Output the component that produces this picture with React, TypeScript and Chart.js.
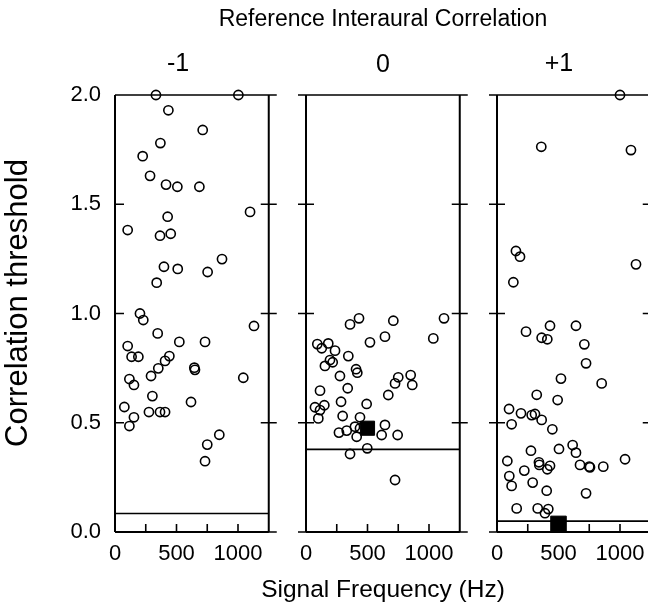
import React, { useEffect, useRef } from 'react';
import { Chart, registerables } from 'chart.js';

Chart.register(...registerables);

const FONT = "'Liberation Sans', Arial, Helvetica, sans-serif";

// ---- text ----
const mainTitle = 'Reference Interaural Correlation';
const panelLabels = ['-1', '0', '+1'];
const xAxisTitle = 'Signal Frequency (Hz)';
const yAxisTitle = 'Correlation threshold';

// ---- axes ----
const xRange = [0, 1250];
const yRange = [0, 2.0];
const xTickValues = [0, 500, 1000];
const xTickLabels = ['0', '500', '1000'];
const xMinorTickValues = [250, 750];
const yTickValues = [0, 0.5, 1.0, 1.5, 2.0];
const yTickLabels = ['0.0', '0.5', '1.0', '1.5', '2.0'];

// ---- panel 1 : reference -1 ----
const p1Freq = [333, 1003, 434, 713, 369, 225, 285, 415, 507, 686, 1098, 428, 103, 366, 453, 870, 398, 510, 753, 339, 203, 230, 1130, 347, 523, 732, 103, 135, 190, 442, 407, 352, 645, 650, 1043, 117, 154, 293, 304, 618, 76, 276, 366, 407, 154, 117, 848, 750, 732];
const p1Thresh = [2.0, 2.0, 1.93, 1.84, 1.78, 1.72, 1.63, 1.59, 1.58, 1.58, 1.465, 1.443, 1.382, 1.356, 1.365, 1.249, 1.214, 1.204, 1.19, 1.141, 1.0, 0.97, 0.943, 0.909, 0.87, 0.87, 0.851, 0.802, 0.802, 0.805, 0.783, 0.749, 0.752, 0.742, 0.706, 0.7, 0.673, 0.714, 0.622, 0.595, 0.572, 0.549, 0.549, 0.549, 0.525, 0.485, 0.445, 0.4, 0.324];
const p1Criterion = 0.085;

// ---- panel 2 : reference 0 ----
const p2Freq = [431, 358, 710, 1122, 1035, 642, 520, 92, 181, 128, 236, 344, 195, 217, 154, 407, 417, 276, 750, 851, 724, 864, 339, 114, 669, 285, 493, 149, 73, 114, 100, 298, 439, 642, 398, 268, 331, 412, 615, 745, 439, 498, 358, 724];
const p2Thresh = [0.978, 0.95, 0.967, 0.978, 0.886, 0.894, 0.868, 0.86, 0.863, 0.841, 0.83, 0.805, 0.787, 0.777, 0.76, 0.745, 0.729, 0.714, 0.708, 0.718, 0.68, 0.673, 0.658, 0.647, 0.627, 0.596, 0.586, 0.58, 0.571, 0.558, 0.52, 0.531, 0.525, 0.49, 0.482, 0.455, 0.464, 0.436, 0.444, 0.444, 0.475, 0.383, 0.357, 0.238];
const p2Criterion = 0.378;
const p2MeanFreq = [500];
const p2MeanThresh = [0.475];

// ---- panel 3 : reference +1 ----
const p3Freq = [1000, 360, 1089, 154, 187, 1130, 133, 431, 642, 236, 363, 409, 710, 724, 520, 851, 323, 493, 98, 195, 282, 309, 363, 119, 450, 504, 615, 642, 276, 84, 341, 344, 431, 675, 750, 756, 864, 1041, 409, 222, 100, 119, 290, 404, 724, 160, 331, 417, 390];
const p3Thresh = [2.0, 1.763, 1.748, 1.286, 1.26, 1.225, 1.143, 0.944, 0.944, 0.917, 0.889, 0.882, 0.859, 0.772, 0.702, 0.68, 0.628, 0.604, 0.563, 0.543, 0.535, 0.54, 0.513, 0.493, 0.47, 0.38, 0.398, 0.363, 0.372, 0.325, 0.319, 0.307, 0.303, 0.307, 0.299, 0.296, 0.299, 0.333, 0.287, 0.281, 0.256, 0.211, 0.226, 0.189, 0.177, 0.108, 0.108, 0.105, 0.086];
const p3Criterion = 0.05;
const p3MeanFreq = [500];
const p3MeanThresh = [0.037];

const framePlugin = {
  id: 'panelFrame',
  beforeDatasetsDraw(chart: any, _args: any, opts: any) {
    const { ctx, chartArea: a, scales } = chart;
    const xs = scales.x;
    const ys = scales.y;
    ctx.save();
    ctx.strokeStyle = '#000';
    ctx.lineWidth = 2;
    ctx.beginPath();
    ctx.moveTo(a.left, a.top);
    ctx.lineTo(a.left, a.bottom);
    ctx.moveTo(a.right, a.top);
    ctx.lineTo(a.right, a.bottom);
    ctx.moveTo(a.left, a.bottom);
    ctx.lineTo(a.right, a.bottom);
    ctx.stroke();
    ctx.lineWidth = 1.6;
    ctx.beginPath();
    ctx.moveTo(a.left, a.top);
    ctx.lineTo(a.right, a.top);
    for (const v of yTickValues) {
      const py = ys.getPixelForValue(v);
      if (opts.left === 'in') {
        ctx.moveTo(a.left, py);
        ctx.lineTo(a.left + 9, py);
      } else {
        ctx.moveTo(a.left - 8, py);
        ctx.lineTo(a.left + 8, py);
      }
      ctx.moveTo(a.right - 8, py);
      ctx.lineTo(a.right + 8, py);
    }
    for (const v of [...xTickValues, ...xMinorTickValues]) {
      const px = xs.getPixelForValue(v);
      ctx.moveTo(px, a.bottom);
      ctx.lineTo(px, a.bottom - 8);
    }
    ctx.stroke();
    ctx.restore();
  },
};

function makeDatasets(
  freq: number[],
  thresh: number[],
  criterion: number,
  meanFreq?: number[],
  meanThresh?: number[],
  meanRadius?: number
) {
  const datasets: any[] = [];
  if (meanFreq && meanThresh) {
    datasets.push({
      label: 'mean',
      data: meanFreq.map((f, i) => ({ x: f, y: meanThresh[i] })),
      pointStyle: 'rect',
      pointRadius: meanRadius || 10,
      backgroundColor: '#000',
      borderColor: '#000',
      borderWidth: 1,
      showLine: false,
      clip: false,
    });
  }
  datasets.push({
    label: 'criterion',
    data: [
      { x: xRange[0], y: criterion },
      { x: xRange[1], y: criterion },
    ],
    showLine: true,
    pointRadius: 0,
    borderColor: '#000',
    borderWidth: 1.6,
    fill: false,
    clip: false,
  });
  datasets.push({
    label: 'thresholds',
    data: freq.map((f, i) => ({ x: f, y: thresh[i] })),
    pointStyle: 'circle',
    pointRadius: 4.6,
    borderWidth: 1.6,
    borderColor: '#000',
    backgroundColor: 'rgba(0,0,0,0)',
    showLine: false,
    clip: false,
  });
  return datasets;
}

function xScale(height: number) {
  return {
    type: 'linear',
    position: 'bottom',
    min: xRange[0],
    max: xRange[1],
    afterBuildTicks: (s: any) => {
      s.ticks = xTickValues.map((v) => ({ value: v }));
    },
    ticks: {
      autoSkip: false,
      maxRotation: 0,
      padding: 9,
      color: '#000',
      font: { family: FONT, size: 22 },
      callback: (_v: any, i: number) => xTickLabels[i],
    },
    grid: { display: false, drawTicks: false },
    border: { display: false },
    afterFit: (s: any) => {
      s.height = height;
    },
  };
}

function yScale(width: number, showLabels: boolean) {
  return {
    type: 'linear',
    position: 'left',
    min: yRange[0],
    max: yRange[1],
    afterBuildTicks: (s: any) => {
      s.ticks = yTickValues.map((v) => ({ value: v }));
    },
    ticks: {
      display: showLabels,
      autoSkip: false,
      padding: 14,
      color: '#000',
      font: { family: FONT, size: 22 },
      callback: (_v: any, i: number) => yTickLabels[i],
    },
    grid: { display: false, drawTicks: false },
    border: { display: false },
    afterFit: (s: any) => {
      s.width = width;
    },
  };
}

function spacerScale(position: string, size: number, extra: any = {}) {
  const horizontal = position === 'top' || position === 'bottom';
  return {
    type: 'linear',
    position,
    min: 0,
    max: 1,
    ticks: { display: false },
    grid: { display: false, drawTicks: false },
    border: { display: false },
    ...extra,
    afterFit: (s: any) => {
      if (horizontal) s.height = size;
      else s.width = size;
    },
  };
}

function baseOptions() {
  return {
    responsive: false,
    maintainAspectRatio: false,
    animation: false,
    devicePixelRatio: 1,
    events: [],
    layout: { padding: 0 },
  };
}

function textFont(size: number) {
  return { family: FONT, size, weight: 'normal' };
}

// Panel 1: canvas 0..356 ; plot area 115..268.75
function configPanel1(): any {
  const yTitleSize = 31;
  const yTitleBox = yTitleSize * 1.2;
  return {
    type: 'scatter',
    data: { datasets: makeDatasets(p1Freq, p1Thresh, p1Criterion) },
    plugins: [framePlugin],
    options: {
      ...baseOptions(),
      plugins: {
        legend: { display: false },
        tooltip: { enabled: false },
        title: {
          display: true,
          text: panelLabels[0],
          color: '#000',
          fullSize: true,
          font: textFont(25),
          padding: { top: 49, bottom: 16 },
        },
        subtitle: {
          display: true,
          text: yAxisTitle,
          position: 'left',
          color: '#000',
          fullSize: true,
          font: textFont(yTitleSize),
          padding: { top: 0, bottom: 0 },
        },
        panelFrame: { left: 'in' },
      },
      scales: {
        x: xScale(74),
        y: yScale(115 - yTitleBox, true),
        y2: spacerScale('right', 356 - 268.75),
      },
    },
  };
}

// Panel 2: canvas 118..648 ; plot area 306..459.75
function configPanel2(): any {
  return {
    type: 'scatter',
    data: { datasets: makeDatasets(p2Freq, p2Thresh, p2Criterion, p2MeanFreq, p2MeanThresh, 10) },
    plugins: [framePlugin],
    options: {
      ...baseOptions(),
      plugins: {
        legend: { display: false },
        tooltip: { enabled: false },
        title: {
          display: true,
          text: mainTitle,
          color: '#000',
          fullSize: true,
          font: textFont(23),
          padding: { top: 5.7, bottom: 0 },
        },
        subtitle: {
          display: true,
          text: xAxisTitle,
          position: 'bottom',
          color: '#000',
          fullSize: true,
          font: textFont(24.5),
          padding: { top: 1.4, bottom: 1.2 },
        },
        panelFrame: { left: 'cross' },
      },
      scales: {
        x: xScale(74 - 32),
        y: yScale(188, false),
        y2: spacerScale('right', 648 - 459.75),
        x2: spacerScale('top', 95 - 33.3, {
          title: {
            display: true,
            text: panelLabels[1],
            color: '#000',
            font: textFont(25),
            padding: { top: 16.7, bottom: 0 },
          },
        }),
      },
    },
  };
}

// Panel 3: canvas 427..691 ; plot area 497..650.75 (right edge outside the view)
function configPanel3(): any {
  return {
    type: 'scatter',
    data: { datasets: makeDatasets(p3Freq, p3Thresh, p3Criterion, p3MeanFreq, p3MeanThresh, 11) },
    plugins: [framePlugin],
    options: {
      ...baseOptions(),
      plugins: {
        legend: { display: false },
        tooltip: { enabled: false },
        title: {
          display: true,
          text: panelLabels[2],
          color: '#000',
          fullSize: true,
          font: textFont(25),
          padding: { top: 49, bottom: 16 },
        },
        panelFrame: { left: 'cross' },
      },
      scales: {
        x: xScale(74),
        y: yScale(70, false),
        y2: spacerScale('right', 691 - 650.75),
      },
    },
  };
}

const canvasBoxes = [
  { left: 0, width: 356 },
  { left: 118, width: 530 },
  { left: 427, width: 264 },
];

export default function App() {
  const r1 = useRef<HTMLCanvasElement>(null);
  const r2 = useRef<HTMLCanvasElement>(null);
  const r3 = useRef<HTMLCanvasElement>(null);

  useEffect(() => {
    const configs = [configPanel1(), configPanel2(), configPanel3()];
    const refs = [r1, r2, r3];
    const charts = configs.map((c, i) => new Chart(refs[i].current as HTMLCanvasElement, c));
    return () => charts.forEach((c) => c.destroy());
  }, []);

  return (
    <div
      style={{
        position: 'absolute',
        left: 0,
        top: 0,
        width: 648,
        height: 606,
        overflow: 'hidden',
        background: '#fff',
      }}
    >
      {[r1, r2, r3].map((r, i) => (
        <canvas
          key={i}
          ref={r}
          width={canvasBoxes[i].width}
          height={606}
          style={{
            position: 'absolute',
            left: canvasBoxes[i].left,
            top: 0,
            width: canvasBoxes[i].width,
            height: 606,
          }}
        />
      ))}
    </div>
  );
}
